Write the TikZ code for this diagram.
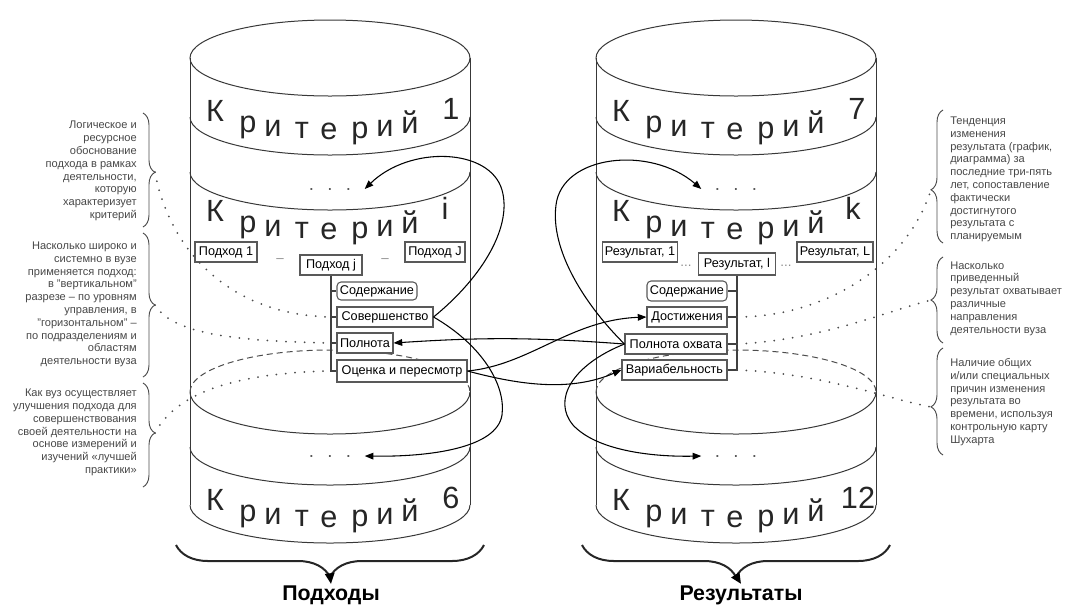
\documentclass[tikz,border=0pt]{standalone}
\usepackage{fontspec}
\setmainfont{Liberation Sans}
\usetikzlibrary{arrows.meta,decorations.pathreplacing,calc}

% one upright letter of a "Критерий N" label, placed along the band's curve
\newcommand\critword[5]{%
  \foreach \dx/\dy/\ch [count=\n] in {-115/20/К,-82/31.4/р,-57/34.7/и,-28/36.8/т,-1/37.5/е,30/36.7/р,55/34.9/и,80/31.7/й}
    \node[crit] (#4\n) at ({#1+\dx},{#2+\dy}) {\ch};
  \node[crit] (#4d) at ({#1+#5},{#2+18}) {#3};
}

\begin{document}
\begin{tikzpicture}[x=0.75pt,y=-0.75pt,
  wall/.style={draw=black!78, line width=0.75pt},
  hidden/.style={draw=black!70, line width=0.75pt, dash pattern=on 4.5pt off 3pt},
  crit/.style={font=\fontsize{23}{23}\selectfont, text=black!85, anchor=base, inner sep=0pt},
  box/.style={draw=black!65, line width=0.8pt, fill=white, font=\fontsize{9.5}{10}\selectfont,
              inner xsep=1.5pt, inner ysep=0pt, minimum height=15pt},
  rbox/.style={box, rounded corners=3pt},
  link/.style={draw=black, line width=0.8pt, -{Triangle[length=6.5pt,width=5pt]}},
  plain/.style={draw=black!75, line width=0.8pt},
  dotline/.style={draw=black!70, line width=1.5pt, line cap=round, dash pattern=on 0pt off 7pt},
  note/.style={font=\fontsize{8.3}{9.6}\selectfont, text=black!72, inner sep=0pt},
  sidebrace/.style={draw=black!70, line width=0.7pt, decorate},
  groupbrace/.style={draw=black!85, line width=1.5pt, decorate, decoration={brace, amplitude=24pt}},
  dots/.style={font=\fontsize{14}{14}\selectfont, text=black!65, inner xsep=10pt, inner ysep=1pt, anchor=base},
  sep/.style={font=\fontsize{10}{10}\selectfont, text=black!45, inner sep=1pt, anchor=base}
]
\useasboundingbox (0,0) rectangle (1067,608);

% ---- the two cylinders ----
\foreach \cx in {330,736}{
  \draw[wall] ({\cx-140},58) -- ({\cx-140},505) ({\cx+140},58) -- ({\cx+140},505);
  \draw[wall] (\cx,58) ellipse [x radius=140, y radius=38];
  \foreach \c in {117,172,447,505}
    \draw[wall] ({\cx+140},\c) arc[start angle=0, end angle=180, x radius=140, y radius=38];
  \draw[wall] ({\cx+140},392) arc[start angle=0, end angle=180, x radius=140, y radius=42];
  \draw[hidden] ({\cx-140},392) arc[start angle=180, end angle=360, x radius=140, y radius=42];
}

% ---- criterion labels ----
\critword{330}{101.5}{1}{ca}{121}
\critword{330}{201.5}{i}{cb}{115}
\critword{330}{490}{6}{cc}{121}
\critword{736}{101.5}{7}{cd}{121}
\critword{736}{201.5}{k}{ce}{117}
\critword{736}{490}{12}{cf}{122}

\node[dots] (dA) at (330,190) {.\hspace{10pt}.\hspace{10pt}.};
\node[dots] (dB) at (330,457) {.\hspace{10pt}.\hspace{10pt}.};
\node[dots] (dC) at (736,190) {.\hspace{10pt}.\hspace{10pt}.};
\node[dots] (dD) at (736,457) {.\hspace{10pt}.\hspace{10pt}.};

% ---- approaches ----
\node[box, minimum width=46.5pt] (p1) at (226,252) {Подход 1};
\node[box, minimum width=46.5pt] (pj) at (331,265) {Подход j};
\node[box, minimum width=45pt]   (pJ) at (435,252) {Подход J};
\node[sep] (sa) at (280,262) {–};
\node[sep] (sb) at (385,262) {–};

\node[rbox, minimum width=60pt, minimum height=13.5pt] (s1) at (377,291) {Содержание};
\node[box,  minimum width=72pt]   (s2) at (385,317) {Совершенство};
\node[box,  minimum width=42pt]   (s3) at (365,343) {Полнота};
\node[box,  minimum width=97.5pt, minimum height=16.5pt] (s4) at (402,371) {Оценка и пересмотр};

\draw[plain] (pj.south) -- (pj.south |- s4.west) -- (s4.west);
\foreach \b in {s1,s2,s3} \draw[plain] (pj.south |- \b.west) -- (\b.west);

% ---- results ----
\node[box, minimum width=56.25pt] (r1) at (640,252) {Результат, 1};
\node[box, minimum width=57.75pt, minimum height=16.5pt] (rl) at (737,264) {Результат, l};
\node[box, minimum width=57pt]    (rL) at (835,252) {Результат, L};
\node[sep] (sc) at (686,266) {...};
\node[sep] (sd) at (786,266) {...};

\node[rbox, minimum width=60pt] (t1) at (687,291) {Содержание};
\node[box,  minimum width=60pt] (t2) at (687,317) {Достижения};
\node[box,  minimum width=76.5pt] (t3) at (676,344) {Полнота охвата};
\node[box,  minimum width=78.75pt] (t4) at (674.5,370) {Вариабельность};

\draw[plain] (rl.south) -- (rl.south |- t4.east) -- (t4.east);
\foreach \b in {t1,t2,t3} \draw[plain] (rl.south |- \b.east) -- (\b.east);

% ---- links between criteria, approaches and results ----
\draw[link] (s2.east) .. controls (485,275) and (512,225) .. (502,190)
                      .. controls (490,148) and (410,145) .. (dA.east);
\draw[link] (s2.east) .. controls (482,345) and (506,385) .. (502,415)
                      .. controls (497,448) and (430,457) .. (dB.east);
\draw[link] (t3.west) .. controls (585,305) and (550,250) .. (556,205)
                      .. controls (562,155) and (650,145) .. (dC.west);
\draw[link] (t3.west) .. controls (572,365) and (552,400) .. (573,425)
                      .. controls (596,450) and (650,457) .. (dD.west);
\draw[link] (t3.west) to[bend right=4] (s3.east);
\draw[link] (s4.east) .. controls (530,365) and (570,320) .. (t2.west);
\draw[link] (s4.east) .. controls (520,385) and (570,392) .. (t4.west);

% ---- side notes ----
\node[note, anchor=east, align=right] (nL1) at (137,171)
  {Логическое и\\ресурсное\\обоснование\\подхода в рамках\\деятельности,\\которую\\характеризует\\критерий};
\node[note, anchor=east, align=right] (nL2) at (137,304.5)
  {Насколько широко и\\системно в вузе\\применяется подход:\\в "вертикальном"\\разрезе – по уровням\\управления, в\\"горизонтальном" –\\по подразделениям и\\областям\\деятельности вуза};
\node[note, anchor=east, align=right] (nL3) at (137,432.5)
  {Как вуз осуществляет\\улучшения подхода для\\совершенствования\\своей деятельности на\\основе измерений и\\изучений «лучшей\\практики»};
\node[note, anchor=west, align=left] (nR1) at (950,179.5)
  {Тенденция\\изменения\\результата (график,\\диаграмма) за\\последние три-пять\\лет, сопоставление\\фактически\\достигнутого\\результата с\\планируемым};
\node[note, anchor=west, align=left] (nR2) at (950,298.5)
  {Насколько\\приведенный\\результат охватывает\\различные\\направления\\деятельности вуза};
\node[note, anchor=west, align=left] (nR3) at (950,402)
  {Наличие общих\\и/или специальных\\причин изменения\\результата во\\времени, используя\\контрольную карту\\Шухарта};

\draw[sidebrace, decoration={brace, amplitude=9pt, aspect=0.52}] (143,113) -- (143,227);
\draw[sidebrace, decoration={brace, amplitude=9pt, aspect=0.5}]  (143,233) -- (143,377);
\draw[sidebrace, decoration={brace, amplitude=9pt, aspect=0.48}] (143,383) -- (143,487);
\draw[sidebrace, decoration={brace, amplitude=9pt, aspect=0.4}]  (943,243) -- (943,110);
\draw[sidebrace, decoration={brace, amplitude=9pt, aspect=0.5}]  (943,343) -- (943,257);
\draw[sidebrace, decoration={brace, amplitude=9pt, aspect=0.45}] (943,455) -- (943,348);

\coordinate (tL1) at (155,172);
\coordinate (tL2) at (155,305);
\coordinate (tL3) at (155,433);
\coordinate (tR1) at (931,190);
\coordinate (tR2) at (931,300);
\coordinate (tR3) at (931,407);

\draw[dotline] (tL1) .. controls (168,245) and (225,315) .. (pj.south |- s2.west);
\draw[dotline] (tL2) .. controls (172,332) and (225,341) .. (pj.south |- s3.west);
\draw[dotline] (tL3) .. controls (175,395) and (230,373) .. (pj.south |- s4.west);
\draw[dotline] (rl.south |- t2.east) .. controls (820,317) and (905,270) .. (tR1);
\draw[dotline] (rl.south |- t3.east) .. controls (820,340) and (885,312) .. (tR2);
\draw[dotline] (rl.south |- t4.east) .. controls (820,373) and (885,398) .. (tR3);

% ---- group braces and captions ----
\draw[groupbrace] (484,545) -- (176,545);
\draw[groupbrace] (890,545) -- (582,545);
\coordinate (gA) at (330,576);
\coordinate (gB) at (736,576);
\node[font=\bfseries\fontsize{16}{16}\selectfont, inner sep=0pt] (capA) at (331,595) {Подходы};
\node[font=\bfseries\fontsize{16}{16}\selectfont, inner sep=0pt] (capB) at (741,595) {Результаты};
\draw[line width=1.5pt, -{Triangle[length=8pt,width=7pt]}] (gA) -- ([yshift=1pt]capA.north);
\draw[line width=1.5pt, -{Triangle[length=8pt,width=7pt]}] (gB) -- ([yshift=1pt]capB.north);
\end{tikzpicture}
\end{document}
